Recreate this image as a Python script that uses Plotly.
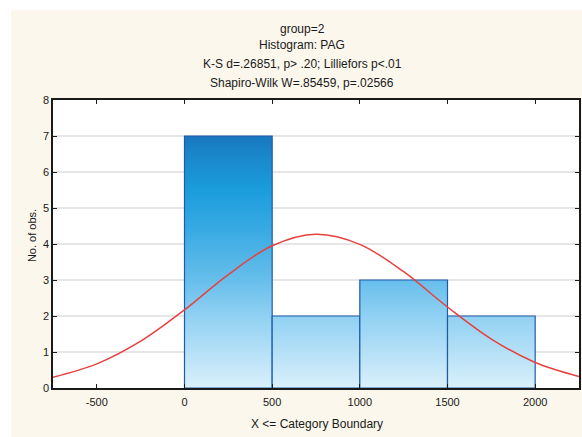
import plotly.graph_objects as go

# ---- data ----
bin_edges = [0, 500, 1000, 1500, 2000]
counts = [7, 2, 3, 2]

curve_x = [-750, -500, -250, 0, 250, 500, 750, 1000, 1250, 1500, 1750, 2000, 2250]
curve_y = [0.30, 0.67, 1.30, 2.17, 3.15, 3.95, 4.27, 3.99, 3.23, 2.25, 1.36, 0.71, 0.32]

x_ticks = [-500, 0, 500, 1000, 1500, 2000]
x_tick_labels = ["-500", "0", "500", "1000", "1500", "2000"]
y_ticks = [0, 1, 2, 3, 4, 5, 6, 7, 8]

title_lines = [
    "group=2",
    "Histogram: PAG",
    "K-S d=.26851, p> .20; Lilliefors p<.01",
    "Shapiro-Wilk W=.85459, p=.02566",
]
x_title = "X <= Category Boundary"
y_title = "No. of obs."

# ---- styling ----
FONT = "Arial, Liberation Sans, sans-serif"
CREAM = "#FBF7EC"
grad = [
    [0.0, "#DAF0FB"],
    [0.29, "#8FD0F2"],
    [0.43, "#66BEEB"],
    [0.64, "#36A9E2"],
    [0.79, "#1A9CDB"],
    [0.93, "#1A86C9"],
    [1.0, "#1877BE"],
]

fig = go.Figure()

for i, c in enumerate(counts):
    x0, x1 = bin_edges[i], bin_edges[i + 1]
    fig.add_trace(go.Scatter(
        x=[x0, x0, x1, x1, x0],
        y=[0, c, c, 0, 0],
        mode="lines",
        fill="toself",
        fillgradient=dict(type="vertical", colorscale=grad, start=0, stop=max(counts)),
        line=dict(color="#1E5CAA", width=1.2),
        showlegend=False,
        hoverinfo="skip",
    ))

fig.add_trace(go.Scatter(
    x=curve_x, y=curve_y, mode="lines",
    line=dict(color="#E8403F", width=1.5, shape="spline", smoothing=1.0),
    showlegend=False, hoverinfo="skip",
))

# page pixel geometry (body margin removed below)
W, H = 582, 437
PL, PT, PR, PB = 53, 100, 581, 388   # plot area in page pixels
L, T, R, B = PL, PT, W - PR, H - PB
pw, ph = PR - PL, PB - PT

def px(x):
    return (x - PL) / pw

def py(y):
    return (PB - y) / ph

title_y = [29, 45, 64, 83]
for txt, yy in zip(title_lines, title_y):
    fig.add_annotation(text=txt, xref="paper", yref="paper", x=px(303), y=py(yy),
                       xanchor="center", yanchor="middle", showarrow=False,
                       font=dict(family=FONT, size=12, color="#1a1a1a"))

fig.add_annotation(text=x_title, xref="paper", yref="paper", x=px(318), y=py(424),
                   xanchor="center", yanchor="middle", showarrow=False,
                   font=dict(family=FONT, size=12, color="#1a1a1a"))
fig.add_annotation(text=y_title, xref="paper", yref="paper", x=px(32), y=py(236),
                   xanchor="center", yanchor="middle", showarrow=False, textangle=-90,
                   font=dict(family=FONT, size=11, color="#1a1a1a"))

# white outer strips
fig.add_shape(type="rect", xref="paper", yref="paper", x0=px(-5), x1=px(11), y0=py(445), y1=py(-5),
              fillcolor="white", line_width=0, layer="above")
fig.add_shape(type="rect", xref="paper", yref="paper", x0=px(-5), x1=px(590), y0=py(10), y1=py(-5),
              fillcolor="white", line_width=0, layer="above")

axis_common = dict(
    showline=True, linecolor="#1a1a1a", linewidth=1.5, mirror="ticks",
    ticks="inside", ticklen=4, tickwidth=1, tickcolor="#1a1a1a",
    tickfont=dict(family=FONT, size=11, color="#1a1a1a"), zeroline=False,
)

fig.update_xaxes(range=[-750, 2250], tickvals=x_ticks, ticktext=x_tick_labels,
                 showgrid=False, ticklabelstandoff=3, **axis_common)
fig.update_yaxes(range=[0, 8], tickvals=y_ticks, showgrid=True, gridcolor="#E6E6E6",
                 gridwidth=1.5, **axis_common)

fig.update_layout(
    width=W, height=H,
    margin=dict(l=L, r=R, t=T, b=B, pad=0),
    paper_bgcolor=CREAM, plot_bgcolor="white",
    font=dict(family=FONT, size=11, color="#1a1a1a"),
)

fig.write_html("out.html", config={"displayModeBar": False},
               post_script="document.body.style.margin='0px';document.body.style.overflow='hidden';")
